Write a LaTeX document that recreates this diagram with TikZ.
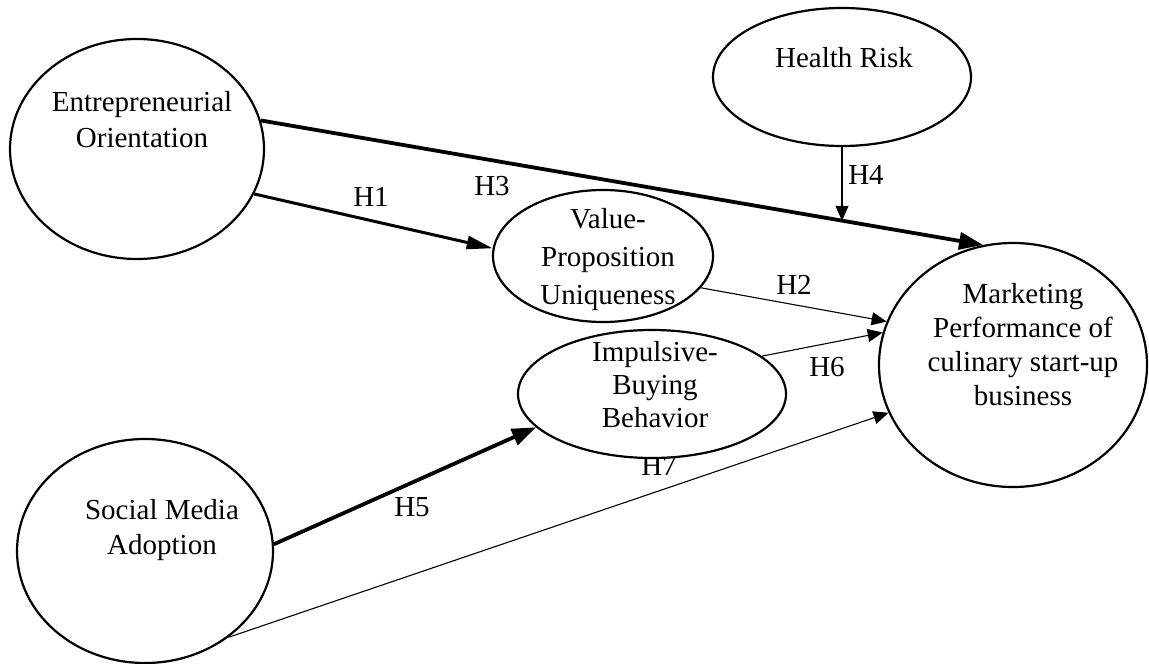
\documentclass[tikz,border=0pt]{standalone}
\usepackage{fontspec}
\setmainfont{Liberation Serif}
\usetikzlibrary{arrows.meta,calc,shapes.geometric,positioning}

\begin{document}
\begin{tikzpicture}[x=0.5pt,y=-0.5pt,
            construct/.style={ellipse,draw=black,line width=1.1pt,fill=white,inner sep=0pt},
            txt/.style={font=\fontsize{14.5pt}{#1}\selectfont,align=center,inner sep=0pt},txt/.default=17.5pt,
            hyp/.style={font=\fontsize{14.5pt}{17pt}\selectfont,inner sep=0pt},
            heavy/.style={line width=1.9pt,-{Triangle[length=12pt,width=8.5pt]}},
            medium/.style={line width=1.5pt,-{Triangle[length=13pt,width=6.5pt]}},
            weak/.style={line width=0.55pt,-{Triangle[length=7.5pt,width=6.5pt]}}]

            \useasboundingbox (0,0) rectangle (1149,663);

            % label partly hidden by the ellipse above it
            \node[hyp] (h7) at (659,466) {H7};

            % constructs
            \node[construct,minimum width=127pt,minimum height=110pt] (eo) at (137,149) {};
            \node[construct,minimum width=129pt,minimum height=69pt] (hr) at (842,77) {};
            \node[construct,minimum width=110pt,minimum height=66pt] (vpu) at (603,256) {};
            \node[construct,minimum width=134pt,minimum height=64pt] (ibb) at (652,394) {};
            \node[construct,minimum width=134pt,minimum height=122pt] (mp) at (1013,365) {};
            \node[construct,minimum width=128pt,minimum height=112pt] (sma) at (145,551) {};

            \node[txt=18pt] (eo-text) at (142,120) {Entrepreneurial\\Orientation};
            \node[txt] (hr-text) at (844,58) {Health Risk};
            \node[txt=19pt] (vpu-text) at (608,260) {Value-\\Proposition\\Uniqueness};
            \node[txt=16.5pt] (ibb-text) at (655,385) {Impulsive-\\Buying\\Behavior};
            \node[txt=17pt] (mp-text) at (1023,345) {Marketing\\Performance of\\culinary start-up\\business};
            \node[txt] (sma-text) at (162,530) {Social Media\\Adoption};

            % hypotheses
            \draw[heavy] (eo.13) -- (mp.104);
            \coordinate (h4end) at ($(eo.13)!0.806!(mp.104)$);
            \draw[weak] (hr.south) -- (hr.south |- h4end);
            \draw[medium] (eo.-21) -- (vpu.176);
            \draw[weak] (vpu.-18) -- (mp.161);
            \draw[weak] (ibb.19) -- (mp.166);
            \draw[heavy] (sma.3.6) -- (ibb.196.5);
            \draw[weak] (sma.-46) -- (mp.201.4);

            \node[hyp] (h1) at (371,197) {H1};
            \node[hyp] (h2) at (794,285) {H2};
            \node[hyp] (h3) at (492,186) {H3};
            \node[hyp] (h4) at (866,175) {H4};
            \node[hyp] (h5) at (412,507) {H5};
            \node[hyp] (h6) at (827,367) {H6};
         \end{tikzpicture}
\end{document}
